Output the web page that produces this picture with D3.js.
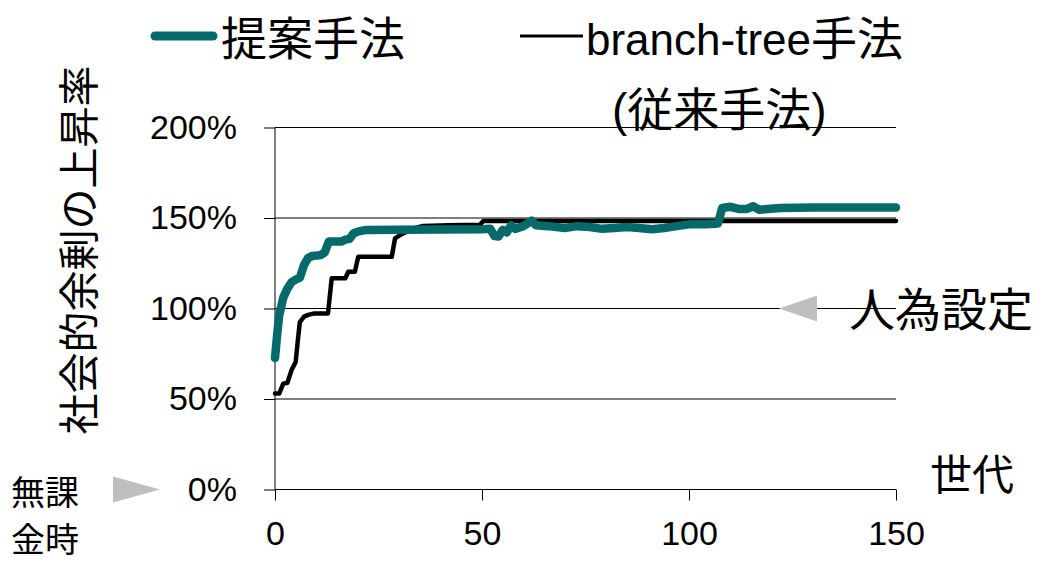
<!DOCTYPE html>
<html>
<head>
<meta charset="utf-8">
<script src="https://cdn.jsdelivr.net/npm/d3@7"></script>
<style>
  html, body { margin: 0; padding: 0; background: #fff; }
  svg { display: block; }
  text { font-family: "Liberation Sans", Arial, "Noto Sans CJK JP", sans-serif; fill: #000; }
</style>
</head>
<body>
<svg id="chart" width="1048" height="562"></svg>
<script>
// Generation (世代) and social surplus increase rate (%) for each method
const proposedGen = [0, 0.5, 1, 2, 3, 4, 5, 6, 7, 8, 9, 11, 12, 13, 16, 17, 18, 19, 20, 22, 30, 40, 50, 52, 53, 54, 55, 56, 57, 58, 60, 62, 63, 66, 70, 73, 76, 79, 82, 85, 88, 91, 94, 97, 100, 104, 106.5, 107, 108, 110, 112, 114, 115.5, 117, 119, 122, 130, 150];
const proposedVal = [72.6, 85, 96, 106, 111, 114.5, 116, 117, 124, 128, 129, 129.5, 131, 137, 137, 138, 138.5, 141.5, 142.5, 143.4, 143.5, 143.6, 143.8, 144, 140, 139.8, 143.5, 142, 146, 144, 145.5, 148.5, 146, 145.5, 144.5, 145.5, 145, 144, 144.5, 145, 144.5, 143.8, 144.5, 145.5, 146.5, 146.5, 146.8, 147, 155.5, 156.2, 155, 155, 156.5, 154.5, 155, 155.5, 155.8, 155.8];

const branchGen = [0, 1, 2, 3, 4, 5, 5.5, 6, 7, 8, 9.5, 12.8, 13.7, 17, 17.7, 19.3, 20.1, 28.2, 29, 30.2, 31.8, 33.4, 35.8, 42, 49.5, 50.3, 150];
const branchVal = [53, 53, 58.5, 59, 66, 70.5, 82, 92.5, 95.5, 96.5, 97.3, 97.3, 116.7, 116.7, 120.3, 120.3, 128.6, 128.6, 138.8, 140.6, 142.4, 144.3, 145.6, 146, 146.3, 148.3, 148.3];

const xTicks = [0, 50, 100, 150];
const yTicks = [0, 50, 100, 150, 200];

const seriesNames = ["提案手法", "branch-tree手法", "(従来手法)"];
const yTitle = "社会的余剰の上昇率";
const xTitle = "世代";
const setLabel = "人為設定";
const noTaxLabel = ["無課", "金時"];

const teal = "#066a6a";

const svg = d3.select("#chart");

const x = d3.scaleLinear().domain([0, 150]).range([275, 896]);
const y = d3.scaleLinear().domain([0, 200]).range([489.5, 127.5]);

// horizontal gridlines
svg.append("g")
  .selectAll("line")
  .data(yTicks.filter(d => d > 0))
  .join("line")
  .attr("x1", x(0)).attr("x2", x(150))
  .attr("y1", d => y(d)).attr("y2", d => y(d))
  .attr("stroke", "#000").attr("stroke-width", 1);

// y axis
const yAxis = d3.axisLeft(y).tickValues(yTicks).tickSize(11).tickPadding(27)
  .tickFormat(d => d + "%");
const gy = svg.append("g").attr("transform", `translate(${x(0)},0)`).call(yAxis);
gy.select(".domain").attr("stroke", "#000").attr("d", `M0,${y(0)}V${y(200)}`);
gy.selectAll(".tick line").attr("stroke", "#000");
gy.selectAll(".tick text").attr("font-size", 34).attr("font-family", "Liberation Sans, Arial, sans-serif").attr("fill", "#000");

// x axis
const xAxis = d3.axisBottom(x).tickValues(xTicks).tickSize(11).tickPadding(20);
const gx = svg.append("g").attr("transform", `translate(0,${y(0)})`).call(xAxis);
gx.select(".domain").attr("stroke", "#000").attr("d", `M${x(0)},0H${x(150)}`);
gx.selectAll(".tick line").attr("stroke", "#000");
gx.selectAll(".tick text").attr("font-size", 34).attr("font-family", "Liberation Sans, Arial, sans-serif").attr("fill", "#000");

// series lines
const line = d3.line().x(d => x(d[0])).y(d => y(d[1]));

svg.append("path")
  .datum(branchGen.map((g, i) => [g, branchVal[i]]))
  .attr("fill", "none").attr("stroke", "#000").attr("stroke-width", 4.5)
  .attr("stroke-linejoin", "round").attr("stroke-linecap", "round")
  .attr("d", line);

svg.append("path")
  .datum(proposedGen.map((g, i) => [g, proposedVal[i]]))
  .attr("fill", "none").attr("stroke", teal).attr("stroke-width", 8.5)
  .attr("stroke-linejoin", "round").attr("stroke-linecap", "round")
  .attr("d", line);

// legend
svg.append("line").attr("x1", 155).attr("x2", 213).attr("y1", 36).attr("y2", 36)
  .attr("stroke", teal).attr("stroke-width", 9).attr("stroke-linecap", "round");
svg.append("text").attr("x", 221).attr("y", 55).attr("font-size", 46)
  .attr("font-family", "Noto Sans CJK JP").text(seriesNames[0]);

svg.append("line").attr("x1", 520).attr("x2", 583).attr("y1", 36).attr("y2", 36)
  .attr("stroke", "#000").attr("stroke-width", 3);
const t2 = svg.append("text").attr("x", 586).attr("y", 55).attr("font-size", 44);
t2.append("tspan").attr("font-family", "Liberation Sans, Arial").text("branch-tree");
t2.append("tspan").attr("font-family", "Noto Sans CJK JP").attr("font-size", 46).text("手法");

const t3 = svg.append("text").attr("x", 612).attr("y", 126).attr("font-size", 46);
t3.append("tspan").attr("font-family", "Liberation Sans, Arial").text("(");
t3.append("tspan").attr("font-family", "Noto Sans CJK JP").text("従来手法");
t3.append("tspan").attr("font-family", "Liberation Sans, Arial").text(")");

// y axis title
svg.append("text")
  .attr("transform", "translate(80,250) rotate(-90)")
  .attr("text-anchor", "middle").attr("dominant-baseline", "central")
  .attr("font-size", 41).attr("font-family", "Noto Sans CJK JP")
  .text(yTitle);

// x axis title
svg.append("text").attr("x", 930).attr("y", 490).attr("font-size", 42)
  .attr("font-family", "Noto Sans CJK JP").text(xTitle);

// manual setting marker at 100%
svg.append("path")
  .attr("d", d3.line()([[817, y(100) - 13], [779, y(100)], [817, y(100) + 13]]) + "Z")
  .attr("fill", "#bfbfbf");
svg.append("text").attr("x", 849).attr("y", y(100) + 17).attr("font-size", 46)
  .attr("font-family", "Noto Sans CJK JP").text(setLabel);

// no-tax marker at 0%
svg.append("path")
  .attr("d", d3.line()([[113, y(0) - 13], [160, y(0)], [113, y(0) + 13]]) + "Z")
  .attr("fill", "#bfbfbf");
svg.append("text").attr("x", 11).attr("y", 505).attr("font-size", 34)
  .attr("font-family", "Noto Sans CJK JP").text(noTaxLabel[0]);
svg.append("text").attr("x", 11).attr("y", 552).attr("font-size", 34)
  .attr("font-family", "Noto Sans CJK JP").text(noTaxLabel[1]);
</script>
</body>
</html>
